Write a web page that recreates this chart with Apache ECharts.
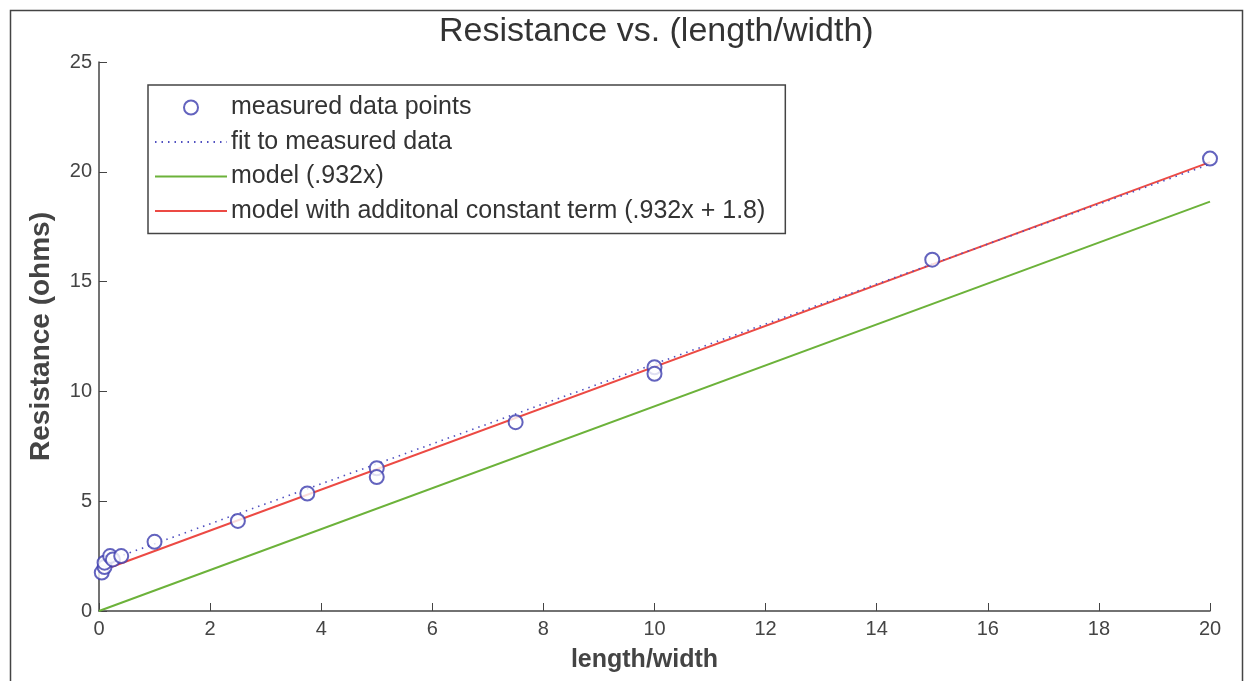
<!DOCTYPE html>
<html>
<head>
<meta charset="utf-8">
<title>Resistance vs. (length/width)</title>
<script src="https://cdn.jsdelivr.net/npm/echarts@6/dist/echarts.min.js"></script>
<style>
    html, body {margin: 0; padding: 0; background: #fff;}
    #main {width: 1244px; height: 681px;}
</style>
</head>
<body>
<div id="main"></div>
<script>
//测量点 x = length/width, y = 电阻
var measuredX = [0.05, 0.1, 0.1, 0.2, 0.25, 0.4, 1, 2.5, 3.75, 5, 5, 7.5, 10, 10, 15, 20];
var measuredY = [1.75, 2.0, 2.2, 2.5, 2.35, 2.5, 3.15, 4.1, 5.35, 6.5, 6.1, 8.6, 11.1, 10.8, 16.0, 20.6];
//拟合线两端
var fitX = [0, 20];
var fitY = [2.15, 20.35];
//模型 .932x
var modelX = [0, 20];
var modelY = [0, 18.64];
//模型 .932x + 1.8
var modelConstX = [0, 20];
var modelConstY = [1.8, 20.44];

var legendNames = [
    'measured data points',
    'fit to measured data',
    'model (.932x)',
    'model with additonal constant term (.932x + 1.8)'
];

var xTicks = [0, 2, 4, 6, 8, 10, 12, 14, 16, 18, 20];
var yTicks = [0, 5, 10, 15, 20, 25];

function pairs(xs, ys) {
    var res = [];
    for (var i = 0; i < xs.length; i++) {
        res.push([xs[i], ys[i]]);
    }
    return res;
}

var font = 'Liberation Sans, Arial, sans-serif';
var chart = echarts.init(document.getElementById('main'));

//线条图例不画中间的点
var noDot = {opacity: 0};

var option = {
    backgroundColor: '#fff',
    animation: false,
    textStyle: {fontFamily: font},
    title: {
        text: 'Resistance vs. (length/width)',
        left: 434,
        top: 10,
        textStyle: {fontSize: 34, fontWeight: 'normal', color: '#333', fontFamily: font}
    },
    graphic: [
        //外框
        {
            type: 'rect',
            left: 8, top: 8,
            shape: {width: 1232, height: 690},
            style: {fill: 'none', stroke: '#444', lineWidth: 1.5},
            silent: true
        }
    ],
    legend: {
        orient: 'vertical',
        left: 148,
        top: 85,
        itemWidth: 72,
        itemHeight: 14,
        itemGap: 9.5,
        padding: [10, 20, 10, 6],
        borderColor: '#444',
        borderWidth: 1.5,
        backgroundColor: '#fff',
        textStyle: {fontSize: 25, color: '#333', fontFamily: font, padding: [0, 0, 0, -1]},
        data: [
            {name: legendNames[0], icon: 'emptyCircle'},
            {name: legendNames[1], itemStyle: noDot},
            {name: legendNames[2], itemStyle: noDot},
            {name: legendNames[3], itemStyle: noDot}
        ]
    },
    grid: {left: 99, right: 34, top: 62, bottom: 70, show: false},
    xAxis: {
        type: 'value',
        min: xTicks[0],
        max: xTicks[xTicks.length - 1],
        interval: 2,
        name: 'length/width',
        nameLocation: 'middle',
        nameGap: 37,
        nameTextStyle: {fontSize: 25, fontWeight: 'bold', color: '#444', fontFamily: font, padding: [0, 20, 0, 0]},
        axisLine: {lineStyle: {color: '#444', width: 1.5}},
        axisTick: {inside: true, length: 8, lineStyle: {color: '#444'}},
        axisLabel: {fontSize: 20, color: '#444', margin: 8},
        splitLine: {show: false}
    },
    yAxis: {
        type: 'value',
        min: yTicks[0],
        max: yTicks[yTicks.length - 1],
        interval: 5,
        name: 'Resistance (ohms)',
        nameLocation: 'middle',
        nameGap: 44,
        nameTextStyle: {fontSize: 28, fontWeight: 'bold', color: '#444', fontFamily: font},
        axisLine: {show: true, lineStyle: {color: '#444', width: 1.5}},
        axisTick: {show: true, inside: true, length: 8, lineStyle: {color: '#444'}},
        axisLabel: {fontSize: 20, color: '#444', margin: 7},
        splitLine: {show: false}
    },
    series: [
        {
            name: legendNames[1],
            type: 'line',
            data: pairs(fitX, fitY),
            symbol: 'none',
            lineStyle: {color: '#5050c0', width: 1.6, type: [1.5, 5]},
            itemStyle: {color: '#5050c0'},
            z: 3
        },
        {
            name: legendNames[2],
            type: 'line',
            data: pairs(modelX, modelY),
            symbol: 'none',
            lineStyle: {color: '#6cb23a', width: 2},
            itemStyle: {color: '#6cb23a'},
            z: 2
        },
        {
            name: legendNames[3],
            type: 'line',
            data: pairs(modelConstX, modelConstY),
            symbol: 'none',
            lineStyle: {color: '#ec4a44', width: 2},
            itemStyle: {color: '#ec4a44'},
            z: 2
        },
        {
            name: legendNames[0],
            type: 'scatter',
            data: pairs(measuredX, measuredY),
            symbol: 'emptyCircle',
            symbolSize: 14,
            itemStyle: {color: '#3c3cae', borderColor: '#3c3cae', borderWidth: 1.8},
            z: 4
        }
    ]
};

chart.setOption(option);
</script>
</body>
</html>
